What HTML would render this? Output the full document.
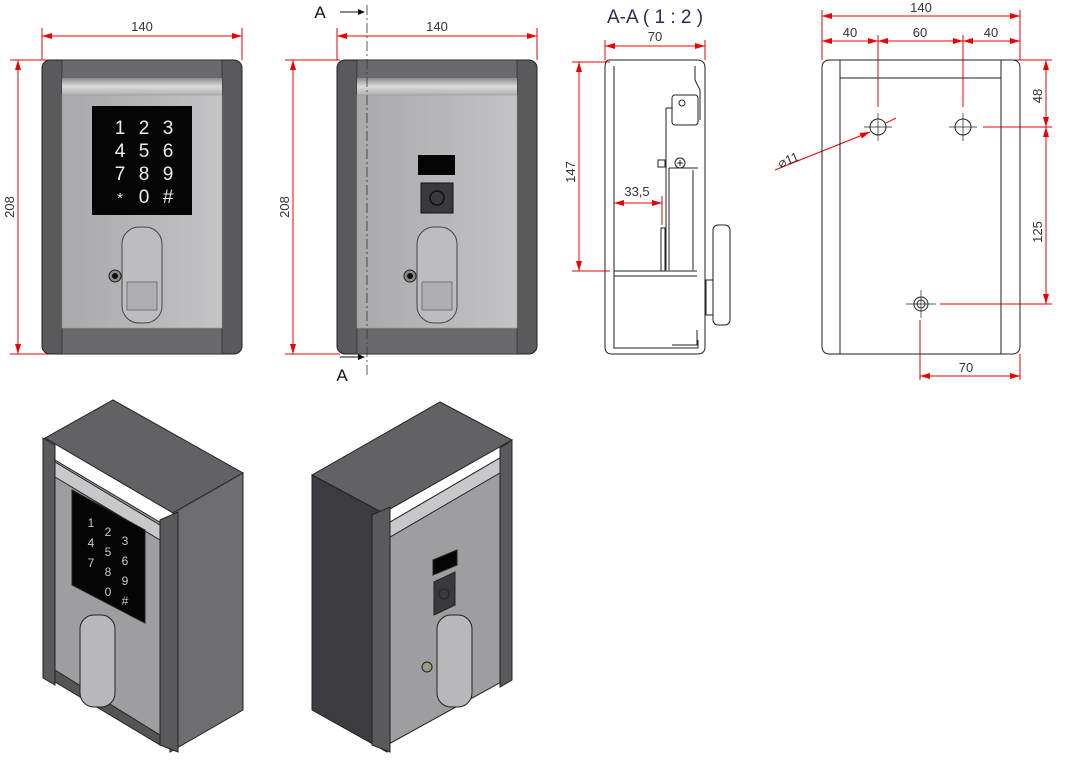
<!DOCTYPE html>
<html><head><meta charset="utf-8"><style>
html,body{margin:0;padding:0;background:#fff;}
svg{display:block;}
text{font-family:"Liberation Sans",sans-serif;}
</style></head><body>
<svg width="1077" height="767" viewBox="0 0 1077 767" xmlns="http://www.w3.org/2000/svg">
<defs>
<linearGradient id="pan" x1="0" y1="0" x2="1" y2="0"><stop offset="0" stop-color="#a9a9ab"/><stop offset="1" stop-color="#c4c4c6"/></linearGradient>
<linearGradient id="band" x1="0" y1="0" x2="0" y2="1"><stop offset="0" stop-color="#8a8a8c"/><stop offset=".5" stop-color="#dcdcdc"/><stop offset="1" stop-color="#b0b0b2"/></linearGradient>
<marker id="ar" viewBox="0 0 10 6" refX="10" refY="3" markerWidth="10" markerHeight="6" orient="auto-start-reverse"><path d="M0,0L10,3L0,6z" fill="#e00"/></marker>
</defs>
<g stroke="#e00" stroke-width="1" fill="none">
<!-- view1 dims -->
<line x1="42" y1="28" x2="42" y2="60"/><line x1="242" y1="28" x2="242" y2="60"/>
<line x1="42" y1="36" x2="242" y2="36" marker-start="url(#ar)" marker-end="url(#ar)"/>
<line x1="10" y1="60" x2="55" y2="60"/><line x1="10" y1="354" x2="55" y2="354"/>
<line x1="18" y1="60" x2="18" y2="354" marker-start="url(#ar)" marker-end="url(#ar)"/>
<!-- view2 dims -->
<line x1="337" y1="28" x2="337" y2="60"/><line x1="537" y1="28" x2="537" y2="60"/>
<line x1="337" y1="36" x2="537" y2="36" marker-start="url(#ar)" marker-end="url(#ar)"/>
<line x1="285" y1="60" x2="340" y2="60"/><line x1="285" y1="354" x2="340" y2="354"/>
<line x1="293" y1="60" x2="293" y2="354" marker-start="url(#ar)" marker-end="url(#ar)"/>
<!-- section dims -->
<line x1="605" y1="40" x2="605" y2="60"/><line x1="705" y1="40" x2="705" y2="60"/>
<line x1="605" y1="46" x2="705" y2="46" marker-start="url(#ar)" marker-end="url(#ar)"/>
<line x1="572" y1="62" x2="610" y2="62"/><line x1="572" y1="271" x2="610" y2="271"/>
<line x1="579" y1="62" x2="579" y2="271" marker-start="url(#ar)" marker-end="url(#ar)"/>
<line x1="614" y1="203" x2="662" y2="203" marker-start="url(#ar)" marker-end="url(#ar)"/>
<line x1="662" y1="196" x2="662" y2="225"/>
<!-- back dims -->
<line x1="822" y1="10" x2="822" y2="60"/><line x1="1020" y1="10" x2="1020" y2="60"/>
<line x1="822" y1="16" x2="1020" y2="16" marker-start="url(#ar)" marker-end="url(#ar)"/>
<line x1="822" y1="41" x2="878" y2="41" marker-start="url(#ar)" marker-end="url(#ar)"/>
<line x1="878" y1="41" x2="963" y2="41" marker-start="url(#ar)" marker-end="url(#ar)"/>
<line x1="963" y1="41" x2="1020" y2="41" marker-start="url(#ar)" marker-end="url(#ar)"/>
<line x1="878" y1="35" x2="878" y2="107"/><line x1="963" y1="35" x2="963" y2="107"/>
<line x1="1010" y1="60" x2="1052" y2="60"/><line x1="983" y1="127" x2="1052" y2="127"/><line x1="940" y1="304" x2="1052" y2="304"/>
<line x1="1046" y1="60" x2="1046" y2="127" marker-start="url(#ar)" marker-end="url(#ar)"/>
<line x1="1046" y1="127" x2="1046" y2="304" marker-start="url(#ar)" marker-end="url(#ar)"/>
<line x1="920" y1="320" x2="920" y2="380"/><line x1="1020" y1="354" x2="1020" y2="380"/>
<line x1="920" y1="376" x2="1020" y2="376" marker-start="url(#ar)" marker-end="url(#ar)"/>
<line x1="775" y1="170" x2="870" y2="132" marker-end="url(#ar)"/>
<line x1="896" y1="118" x2="886" y2="123"/>
</g>
<g fill="#333" font-size="13" text-anchor="middle">
<text x="142" y="31">140</text><text x="437" y="31">140</text><text x="655" y="41">70</text>
<text x="921" y="12">140</text><text x="850" y="37">40</text><text x="920" y="37">60</text><text x="991" y="37">40</text>
<text x="966" y="372">70</text><text x="637" y="196">33,5</text>
<text transform="translate(14,207) rotate(-90)">208</text>
<text transform="translate(289,207) rotate(-90)">208</text>
<text transform="translate(575,172) rotate(-90)">147</text>
<text transform="translate(1042,96) rotate(-90)">48</text>
<text transform="translate(1042,232) rotate(-90)">125</text>
<text transform="translate(790,164) rotate(-22)">⌀11</text>
<text x="320" y="18" font-size="17" fill="#111">A</text>
<text x="342" y="381" font-size="17" fill="#111">A</text>
</g>
<text x="607" y="23" font-size="19" fill="#2a2a5a" font-family="Liberation Sans,sans-serif">A-A ( 1 : 2 )</text>
<!-- view 1 -->
<g>
<rect x="42" y="60" width="200" height="294" rx="8" fill="#5a5a5d" stroke="#222"/>
<rect x="62" y="60" width="160" height="294" fill="#6a6a6d" stroke="#222" stroke-width=".6"/>
<rect x="62" y="78" width="160" height="17" fill="url(#band)"/>
<rect x="62" y="95" width="160" height="233" fill="url(#pan)" stroke="#998" stroke-width=".6"/>
<rect x="92" y="106" width="100" height="109" fill="#050505"/>
<g fill="#eee" font-size="19" text-anchor="middle"><text x="120" y="134">1</text><text x="144" y="134">2</text><text x="168" y="134">3</text>
<text x="120" y="157">4</text><text x="144" y="157">5</text><text x="168" y="157">6</text>
<text x="120" y="180">7</text><text x="144" y="180">8</text><text x="168" y="180">9</text>
<text x="120" y="203" font-size="15">*</text><text x="144" y="203">0</text><text x="168" y="203">#</text></g>
<rect x="122" y="227" width="40" height="96" rx="17" fill="#bdbdbf" stroke="#444"/>
<rect x="127" y="282" width="30" height="28" fill="#b0b0b2" stroke="#555" stroke-width=".7"/>
<circle cx="115" cy="276" r="6" fill="#888" stroke="#222"/><circle cx="115" cy="276" r="3" fill="#111"/>
</g>
<!-- view 2 -->
<g>
<rect x="337" y="60" width="200" height="294" rx="8" fill="#5a5a5d" stroke="#222"/>
<rect x="357" y="60" width="160" height="294" fill="#6a6a6d" stroke="#222" stroke-width=".6"/>
<rect x="357" y="78" width="160" height="17" fill="url(#band)"/>
<rect x="357" y="95" width="160" height="233" fill="url(#pan)" stroke="#998" stroke-width=".6"/>
<rect x="418" y="155" width="37" height="20" fill="#050505"/>
<rect x="421" y="183" width="32" height="30" fill="#3a3a3c" stroke="#111"/>
<circle cx="437" cy="198" r="7" fill="none" stroke="#111" stroke-width="1.5"/>
<rect x="417" y="227" width="40" height="96" rx="17" fill="#bdbdbf" stroke="#444"/>
<rect x="422" y="282" width="30" height="28" fill="#b0b0b2" stroke="#555" stroke-width=".7"/>
<circle cx="410" cy="276" r="6" fill="#888" stroke="#222"/><circle cx="410" cy="276" r="3" fill="#111"/>
<line x1="367" y1="5" x2="367" y2="375" stroke="#333" stroke-dasharray="10,3,2,3" stroke-width=".8"/>
<line x1="340" y1="12" x2="364" y2="12" stroke="#111"/><path d="M365,12l-7,-3v6z" fill="#111"/>
<line x1="340" y1="357" x2="364" y2="357" stroke="#111"/><path d="M365,357l-7,-3v6z" fill="#111"/>
</g>
<!-- section -->
<g fill="none" stroke="#222" stroke-width="1">
<path d="M609,60H697Q705,60 705,68V347Q705,354 697,354H612Q605,354 605,347V68Q605,60 609,60Z"/>
<path d="M614,66V348H698V340"/>
<path d="M695,66V80L700,90V120"/>
<line x1="614" y1="271" x2="697" y2="271"/><line x1="614" y1="276" x2="697" y2="276"/>
<rect x="672" y="95" width="26" height="30" rx="3"/>
<circle cx="682" cy="103" r="3"/>
<path d="M666,108V270M669,168V270M693,170V270"/>
<path d="M666,108H672M669,168H698"/>
<circle cx="680" cy="163" r="5"/><path d="M677,163h6M680,160v6"/>
<rect x="658" y="160" width="7" height="7"/>
<rect x="661" y="228" width="4" height="43"/>
<rect x="713" y="225" width="17" height="100" rx="5" fill="#fff"/>
<rect x="706" y="280" width="7" height="35"/>
<path d="M672,345H697V330"/>
</g>
<!-- back -->
<g fill="none" stroke="#222" stroke-width="1">
<path d="M830,60H1012Q1020,60 1020,68V346Q1020,354 1012,354H830Q822,354 822,346V68Q822,60 830,60Z"/>
<line x1="840" y1="60" x2="840" y2="354"/><line x1="1001" y1="60" x2="1001" y2="354"/>
<line x1="840" y1="78" x2="1001" y2="78"/>
<circle cx="878" cy="127" r="8"/><circle cx="963" cy="127" r="8"/><circle cx="921" cy="304" r="7"/><circle cx="921" cy="304" r="4"/>
<path d="M864,127h28M878,113v28M949,127h28M963,113v28M906,304h30M921,290v28" stroke-width=".7"/>
</g>
<!-- iso 1 -->
<g stroke="#222" stroke-width="1">
<polygon points="45,438 113,400 243,473 173,513" fill="#626266"/>
<polygon points="173,513 243,473 243,710 170,752" fill="#6e6e72"/>
<polygon points="55,460 173,530 170,745 55,680" fill="#9e9ea0"/>
<polygon points="55,462 160,525 160,540 55,477" fill="#c8c8ca"/>
<polygon points="55,670 160,735 160,745 55,682" fill="#555"/>
<polygon points="43,438 55,445 55,685 43,678" fill="#5a5a5d"/>
<polygon points="160,520 178,512 178,752 160,745" fill="#5a5a5d"/>
<polygon points="72,490 145,530 145,623 72,585" fill="#050505"/>
<g fill="#ccc" font-size="12" stroke="none" text-anchor="middle">
<text x="91" y="527">1</text><text x="108" y="536">2</text><text x="125" y="545">3</text>
<text x="91" y="547">4</text><text x="108" y="556">5</text><text x="125" y="565">6</text>
<text x="91" y="567">7</text><text x="108" y="576">8</text><text x="125" y="585">9</text>
<text x="108" y="596">0</text><text x="125" y="605">#</text></g>
<rect x="80" y="615" width="35" height="92" rx="14" fill="#b8b8ba"/>
</g>
<!-- iso 2 -->
<g stroke="#222" stroke-width="1">
<polygon points="312,475 440,402 512,440 383,513" fill="#626266"/>
<polygon points="312,475 383,513 387,752 312,710" fill="#3c3c40"/>
<polygon points="385,525 505,455 505,680 387,745" fill="#9e9ea0"/>
<polygon points="385,525 505,455 505,470 385,540" fill="#c8c8ca"/>
<polygon points="372,515 390,507 390,752 372,745" fill="#5a5a5d"/>
<polygon points="500,448 512,440 512,680 500,687" fill="#5a5a5d"/>
<polygon points="433,560 457,550 457,565 433,575" fill="#050505"/>
<polygon points="434,582 455,572 455,605 434,615" fill="#3a3a3c"/>
<circle cx="444" cy="594" r="5" fill="none"/>
<rect x="437" y="615" width="35" height="92" rx="14" fill="#b8b8ba"/>
<circle cx="427" cy="667" r="5" fill="#998"/>
</g>
</svg>
</body></html>
